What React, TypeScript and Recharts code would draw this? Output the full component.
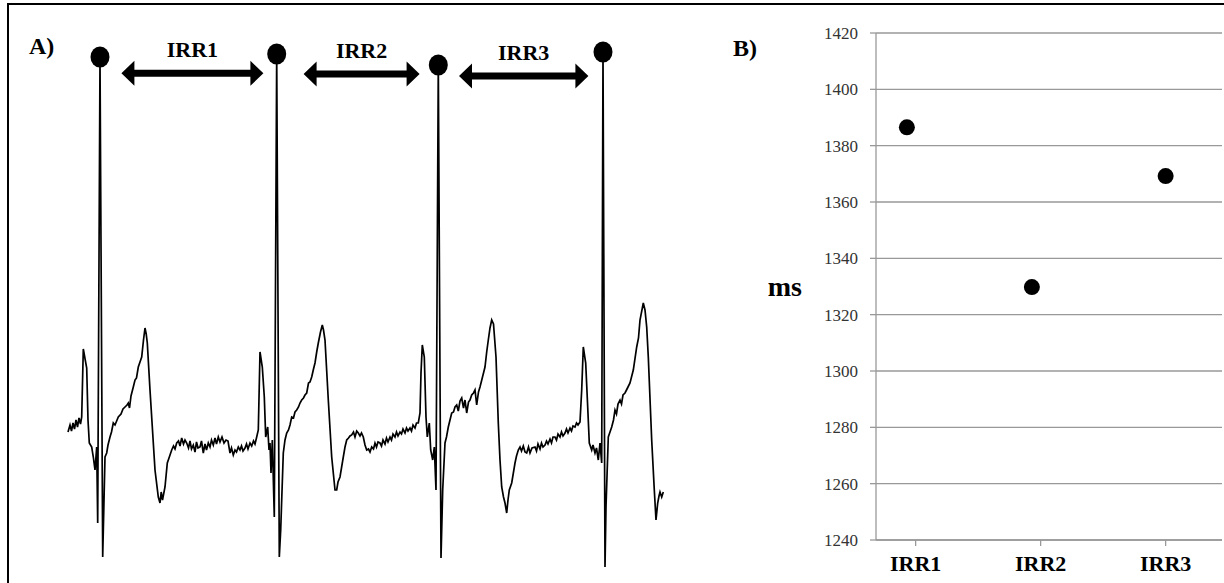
import {
  ComposedChart,
  Line,
  Scatter,
  ScatterChart,
  XAxis,
  YAxis,
  CartesianGrid,
  ReferenceLine,
} from 'recharts';

const SERIF = '"Liberation Serif", "Times New Roman", serif';

// Panel A: ECG strip, [time, amplitude] pairs (arbitrary units)
const beat1: [number, number][] = [
  [0, 13], [2, 20], [3.5, 14], [5, 22], [6.5, 16], [8, 25], [9.5, 18], [11, 27], [12.5, 21], [13.7, 28],
  [15.3, 96], [18.7, 77], [20, 25], [21.3, 2], [23.7, -2], [25.3, -12], [27, -25], [28.7, -2], [29.7, -78],
  [32, 388], [34.7, -112], [37, -12], [38.7, -8], [40, 0], [42, 8], [43.5, 13], [45.3, 22], [47, 20], [50.3, 28],
  [53, 31], [55, 36], [57, 38], [59, 40], [60.3, 42], [61.5, 37], [63, 49], [65.3, 58], [67, 65], [68.5, 67],
  [70.3, 78], [72, 83], [73.7, 88], [75.5, 105], [77, 117], [78.2, 111], [79.3, 102], [82, 55], [84.5, 15],
  [87, -25], [90.3, -52], [92, -58], [93.2, -47], [94.5, -55], [97, -42], [99.3, -18], [101, -13], [103.7, -5],
  [105.5, -1], [107, -4], [108.7, 2], [110.5, 4], [112, -1], [113.7, 7], [115.5, 1], [117, 5], [118.7, 2],
  [120.5, -3], [122, 4], [123.5, -4], [125.3, 0], [127, -7], [128.5, 3], [130, -3], [132, -2], [133.5, 4],
  [135.3, -8], [137, 1], [138.5, -5], [140.3, 2], [142, -2], [143.5, 5], [145.3, 0], [147, 7], [148.5, 1], [150.3, 8],
];

const beat2: [number, number][] = [
  [152, 3], [154, 8], [156, 2], [158, 5], [160, 4], [162, -8], [163.5, -3], [165.3, -10], [167, -5], [168.5, -7],
  [170.3, -2], [172, -5], [173.5, -1], [175, -6], [177, -3], [178.5, 1], [180, -4], [182, 2], [183.7, -1],
  [185.5, 4], [187, 1], [188.7, 8], [190.3, 15], [192, 93], [194.3, 78], [196.3, 48], [197.7, 8], [199.7, 18],
  [201, -5], [202, 2], [203, -28], [204.3, 5], [206.3, -72], [208.7, 391], [211.3, -112], [212.7, -85],
  [215.3, -8], [217, 5], [218.7, 12], [220.5, 15], [222, 20], [223.7, 28], [225.5, 27], [227, 33], [228.7, 35],
  [230.5, 38], [232, 42], [233.7, 45], [235.5, 47], [237, 50], [238.7, 52], [240.5, 62], [242, 63], [243.7, 68],
  [245.5, 76], [247, 82], [248.7, 93], [250.3, 102], [252.5, 113], [254.3, 120], [255.5, 115], [257, 105],
  [260.3, 45], [263.7, -12], [267, -45], [268.7, -45], [270, -37], [272, -32], [275.3, -12], [277, -2],
  [278.7, 5], [280.5, 7], [282, 9], [283.7, 10], [285.5, 13], [287, 8], [288.7, 14], [290.3, 12], [292, 9],
  [293.5, 12], [295.3, 8], [297, 0], [298.7, -5], [300.5, -4], [302, -7], [303.7, -2], [305.5, -4], [307, 2],
];

const beat3: [number, number][] = [
  [308.5, -2], [310, 3], [312, 2], [313.5, -1], [315, 5], [317, 1], [318.5, 7], [320, 3], [322, 8], [323.5, 5],
  [325, 11], [327, 8], [328.5, 13], [330, 9], [332, 13], [333.5, 11], [335, 16], [337, 12], [338.5, 17],
  [340, 14], [342, 17], [343.5, 14], [345, 20], [347, 17], [348.5, 22], [350.3, 22], [352, 32], [353, 72],
  [354.3, 100], [356.3, 88], [358, 28], [359.3, 8], [361.3, 22], [362.7, -5], [364.7, -15], [366.3, -2],
  [368, -45], [370.3, 380], [373, -113], [374.7, -45], [377, 2], [378.5, 8], [380.3, 18], [382, 25],
  [383.7, 32], [385.5, 33], [387, 38], [388.7, 40], [390.3, 34], [392, 44], [393.7, 47], [395.5, 37], [397, 45],
  [398.7, 32], [400.5, 43], [402, 45], [403.7, 50], [405.5, 52], [407, 55], [408.7, 40], [410.5, 53], [412, 58],
  [414.5, 68], [417, 78], [418.7, 93], [420.3, 105], [422, 117], [423.7, 125], [425.5, 121], [428, 88],
  [430.3, 22], [432, -15], [433.7, -42], [435.5, -52], [437, -58], [438.7, -68], [440, -55], [441.3, -45],
  [443.7, -38], [447, -18], [448.5, -11], [450.3, -5], [452, -2], [453.5, -6], [455.3, -1], [457, -7], [458.7, -8],
];

const beat4: [number, number][] = [
  [460.5, -2], [462, -8], [464, -3], [467, -2], [468.5, -6], [470, 1], [472, -4], [473.5, 2], [475, -2], [477, 0],
  [478.5, 4], [480, 1], [482, 6], [483.5, 2], [485, 8], [487, 8], [488.5, 5], [490, 11], [492, 8], [493.5, 13],
  [495, 9], [497, 12], [498.5, 16], [500, 12], [502, 17], [503.5, 14], [505, 19], [507, 18], [508.5, 22],
  [510, 20], [512, 23], [513.7, 55], [515.3, 98], [517.7, 82], [519.7, 38], [521.3, 2], [523.7, -5], [525, 0],
  [527, -8], [528.5, -3], [530.3, -15], [532, 2], [533.7, -18], [535, 393], [537, -122], [538, -62], [540.3, 8],
  [542, 13], [543.7, 18], [545.5, 25], [547, 35], [548.5, 31], [550, 41], [552, 45], [553.5, 41], [555, 50],
  [557, 52], [558.5, 55], [560, 58], [562, 62], [565.3, 75], [568.7, 98], [570.5, 107], [572, 125], [575.3, 142],
  [577, 135], [578.7, 118], [580.3, 88], [583.7, 5], [586.3, -45], [588, -75], [589.7, -58], [591, -51],
  [592, -47], [593.7, -52], [595.3, -47],
];

// R-peak markers and the interval arrows drawn between them
const rPeaks = [
  { t: 32, a: 388 },
  { t: 208.7, a: 391 },
  { t: 370.3, a: 380 },
  { t: 535, a: 393 },
];

const intervals = [
  { name: 'IRR1', from: 53.4, to: 195.4, level: 371.7 },
  { name: 'IRR2', from: 235.6, to: 351.6, level: 371 },
  { name: 'IRR3', from: 391, to: 520.4, level: 369 },
];

// Panel B: RR intervals in ms
const irrLabels = ['IRR1', 'IRR2', 'IRR3'];
const irrX = [0.93, 1.93, 3.0];
const irrMs = [1386.5, 1329.8, 1369.2];
const msTicks = [1240, 1260, 1280, 1300, 1320, 1340, 1360, 1380, 1400, 1420];

const ecg = [...beat1, ...beat2, ...beat3, ...beat4].map(([t, a]) => ({ t, a }));
const irrData = irrX.map((x, i) => ({ x, ms: irrMs[i], name: irrLabels[i] }));

const DoubleArrow = (props: any) => {
  const { x1, y1, x2 } = props;
  const y = y1;
  const hl = 13;
  const hh = 12.5;
  const sh = 3.5;
  const d =
    `M${x1},${y} L${x1 + hl},${y - hh} L${x1 + hl},${y - sh} L${x2 - hl},${y - sh} L${x2 - hl},${y - hh} ` +
    `L${x2},${y} L${x2 - hl},${y + hh} L${x2 - hl},${y + sh} L${x1 + hl},${y + sh} L${x1 + hl},${y + hh} Z`;
  return <path d={d} fill="#000" stroke="none" />;
};

const PeakDot = (props: any) => <ellipse cx={props.cx} cy={props.cy} rx={9.5} ry={10.5} fill="#000" />;
const IrrDot = (props: any) => <circle cx={props.cx} cy={props.cy} r={8} fill="#000" />;

const panelLabel = {
  position: 'absolute' as const,
  fontFamily: SERIF,
  fontWeight: 'bold' as const,
  fontSize: 24,
  lineHeight: '24px',
  color: '#000',
};

const boldText = { fill: '#000', fontWeight: 'bold', fontFamily: SERIF };

export default function App() {
  return (
    <div
      style={{
        position: 'absolute',
        left: 0,
        top: 0,
        width: 1224,
        height: 583,
        background: '#fff',
        overflow: 'hidden',
        fontFamily: SERIF,
      }}
    >
      <div
        style={{
          position: 'absolute',
          left: 7,
          top: 3,
          width: 1224,
          height: 600,
          borderTop: '2px solid #000',
          borderLeft: '2px solid #000',
        }}
      />

      <div style={{ position: 'absolute', left: 0, top: 0 }}>
        <ComposedChart width={700} height={583} data={ecg} margin={{ top: 20, right: 32, bottom: 3, left: 68 }}>
          <XAxis type="number" dataKey="t" domain={[0, 600]} hide />
          <YAxis type="number" domain={[-135, 425]} hide />
          <Line
            type="linear"
            dataKey="a"
            stroke="#000"
            strokeWidth={1.7}
            dot={false}
            activeDot={false}
            isAnimationActive={false}
          />
          <Scatter data={rPeaks} dataKey="a" shape={PeakDot} isAnimationActive={false} />
          {intervals.map((iv) => (
            <ReferenceLine
              key={iv.name}
              segment={[
                { x: iv.from, y: iv.level },
                { x: iv.to, y: iv.level },
              ]}
              shape={DoubleArrow}
              label={{
                value: iv.name,
                position: 'top',
                offset: 16,
                fontSize: 22,
                ...boldText,
                style: { fontFamily: SERIF, fontWeight: 'bold' },
              }}
            />
          ))}
        </ComposedChart>
      </div>
      <div style={{ ...panelLabel, left: 29, top: 34 }}>A)</div>

      <div style={{ position: 'absolute', left: 720, top: 0 }}>
        <ScatterChart width={504} height={583} margin={{ top: 33, right: 2, bottom: 3, left: 96 }}>
          <CartesianGrid vertical={false} stroke="#999" strokeWidth={1.3} />
          <XAxis
            type="number"
            dataKey="x"
            domain={[0.683, 3.451]}
            ticks={[1, 2, 3]}
            tickFormatter={(v: number) => irrLabels[v - 1]}
            height={40}
            axisLine={{ stroke: '#999', strokeWidth: 1.3 }}
            tickLine={{ stroke: '#999', strokeWidth: 1.3 }}
            tickSize={6}
            tickMargin={9}
            tick={{ fontSize: 22, ...boldText, style: { fontFamily: SERIF, fontWeight: 'bold' } }}
          />
          <YAxis
            type="number"
            dataKey="ms"
            domain={[1240, 1420]}
            ticks={msTicks}
            width={60}
            axisLine={{ stroke: '#999', strokeWidth: 1.3 }}
            tickLine={{ stroke: '#999', strokeWidth: 1.3 }}
            tickSize={6}
            tickMargin={12}
            tick={{ fill: '#333', fontSize: 17, fontFamily: SERIF, style: { fontFamily: SERIF } }}
            label={{
              value: 'ms',
              position: 'left',
              offset: 14,
              fontSize: 28,
              ...boldText,
              style: { fontFamily: SERIF, fontWeight: 'bold' },
            }}
          />
          <Scatter data={irrData} shape={IrrDot} isAnimationActive={false} />
        </ScatterChart>
      </div>
      <div style={{ ...panelLabel, left: 733, top: 36 }}>B)</div>
    </div>
  );
}
